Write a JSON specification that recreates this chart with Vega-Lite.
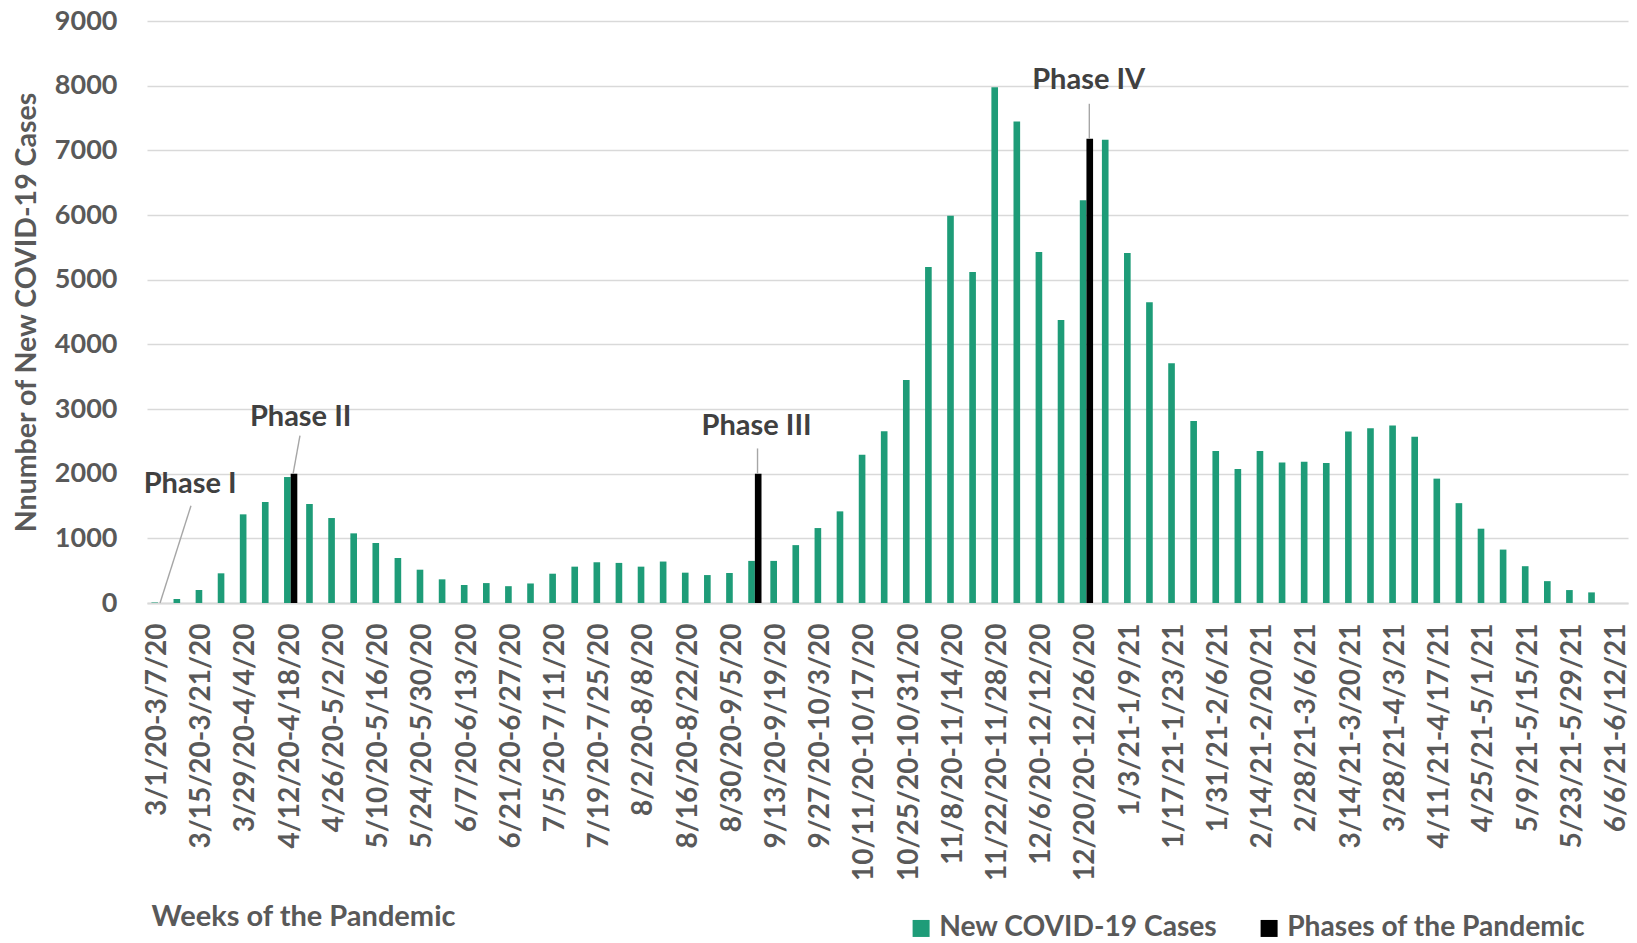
{
  "$schema": "https://vega.github.io/schema/vega-lite/v6.json",
  "width": 1481,
  "height": 582,
  "autosize": {"type": "none"},
  "padding": {"left": 147, "top": 21, "right": 9, "bottom": 340},
  "background": "white",
  "config": {"view": {"stroke": null}, "font": "Lato"},
  "datasets": {
    "bars": [
      {"week": "3/1/20-3/7/20", "series": "New COVID-19 Cases", "cases": 8},
      {"week": "3/8/20-3/14/20", "series": "New COVID-19 Cases", "cases": 62},
      {"week": "3/15/20-3/21/20", "series": "New COVID-19 Cases", "cases": 201},
      {"week": "3/22/20-3/28/20", "series": "New COVID-19 Cases", "cases": 459},
      {"week": "3/29/20-4/4/20", "series": "New COVID-19 Cases", "cases": 1371},
      {"week": "4/5/20-4/11/20", "series": "New COVID-19 Cases", "cases": 1562},
      {"week": "4/12/20-4/18/20", "series": "New COVID-19 Cases", "cases": 1948},
      {"week": "4/19/20-4/25/20", "series": "New COVID-19 Cases", "cases": 1531},
      {"week": "4/26/20-5/2/20", "series": "New COVID-19 Cases", "cases": 1314},
      {"week": "5/3/20-5/9/20", "series": "New COVID-19 Cases", "cases": 1077},
      {"week": "5/10/20-5/16/20", "series": "New COVID-19 Cases", "cases": 928},
      {"week": "5/17/20-5/23/20", "series": "New COVID-19 Cases", "cases": 696},
      {"week": "5/24/20-5/30/20", "series": "New COVID-19 Cases", "cases": 515},
      {"week": "5/31/20-6/6/20", "series": "New COVID-19 Cases", "cases": 366},
      {"week": "6/7/20-6/13/20", "series": "New COVID-19 Cases", "cases": 278},
      {"week": "6/14/20-6/20/20", "series": "New COVID-19 Cases", "cases": 308},
      {"week": "6/21/20-6/27/20", "series": "New COVID-19 Cases", "cases": 260},
      {"week": "6/28/20-7/4/20", "series": "New COVID-19 Cases", "cases": 302},
      {"week": "7/5/20-7/11/20", "series": "New COVID-19 Cases", "cases": 453},
      {"week": "7/12/20-7/18/20", "series": "New COVID-19 Cases", "cases": 562},
      {"week": "7/19/20-7/25/20", "series": "New COVID-19 Cases", "cases": 630},
      {"week": "7/26/20-8/1/20", "series": "New COVID-19 Cases", "cases": 620},
      {"week": "8/2/20-8/8/20", "series": "New COVID-19 Cases", "cases": 562},
      {"week": "8/9/20-8/15/20", "series": "New COVID-19 Cases", "cases": 641},
      {"week": "8/16/20-8/22/20", "series": "New COVID-19 Cases", "cases": 469},
      {"week": "8/23/20-8/29/20", "series": "New COVID-19 Cases", "cases": 432},
      {"week": "8/30/20-9/5/20", "series": "New COVID-19 Cases", "cases": 464},
      {"week": "9/6/20-9/12/20", "series": "New COVID-19 Cases", "cases": 651},
      {"week": "9/13/20-9/19/20", "series": "New COVID-19 Cases", "cases": 651},
      {"week": "9/20/20-9/26/20", "series": "New COVID-19 Cases", "cases": 895},
      {"week": "9/27/20-10/3/20", "series": "New COVID-19 Cases", "cases": 1159},
      {"week": "10/4/20-10/10/20", "series": "New COVID-19 Cases", "cases": 1417},
      {"week": "10/11/20-10/17/20", "series": "New COVID-19 Cases", "cases": 2294},
      {"week": "10/18/20-10/24/20", "series": "New COVID-19 Cases", "cases": 2655},
      {"week": "10/25/20-10/31/20", "series": "New COVID-19 Cases", "cases": 3447},
      {"week": "11/1/20-11/7/20", "series": "New COVID-19 Cases", "cases": 5195},
      {"week": "11/8/20-11/14/20", "series": "New COVID-19 Cases", "cases": 5988},
      {"week": "11/15/20-11/21/20", "series": "New COVID-19 Cases", "cases": 5117},
      {"week": "11/22/20-11/28/20", "series": "New COVID-19 Cases", "cases": 7976},
      {"week": "11/29/20-12/5/20", "series": "New COVID-19 Cases", "cases": 7447},
      {"week": "12/6/20-12/12/20", "series": "New COVID-19 Cases", "cases": 5429},
      {"week": "12/13/20-12/19/20", "series": "New COVID-19 Cases", "cases": 4378},
      {"week": "12/20/20-12/26/20", "series": "New COVID-19 Cases", "cases": 6228},
      {"week": "12/27/20-1/2/21", "series": "New COVID-19 Cases", "cases": 7165},
      {"week": "1/3/21-1/9/21", "series": "New COVID-19 Cases", "cases": 5411},
      {"week": "1/10/21-1/16/21", "series": "New COVID-19 Cases", "cases": 4649},
      {"week": "1/17/21-1/23/21", "series": "New COVID-19 Cases", "cases": 3706},
      {"week": "1/24/21-1/30/21", "series": "New COVID-19 Cases", "cases": 2815},
      {"week": "1/31/21-2/6/21", "series": "New COVID-19 Cases", "cases": 2349},
      {"week": "2/7/21-2/13/21", "series": "New COVID-19 Cases", "cases": 2072},
      {"week": "2/14/21-2/20/21", "series": "New COVID-19 Cases", "cases": 2349},
      {"week": "2/21/21-2/27/21", "series": "New COVID-19 Cases", "cases": 2174},
      {"week": "2/28/21-3/6/21", "series": "New COVID-19 Cases", "cases": 2185},
      {"week": "3/7/21-3/13/21", "series": "New COVID-19 Cases", "cases": 2164},
      {"week": "3/14/21-3/20/21", "series": "New COVID-19 Cases", "cases": 2651},
      {"week": "3/21/21-3/27/21", "series": "New COVID-19 Cases", "cases": 2703},
      {"week": "3/28/21-4/3/21", "series": "New COVID-19 Cases", "cases": 2744},
      {"week": "4/4/21-4/10/21", "series": "New COVID-19 Cases", "cases": 2569},
      {"week": "4/11/21-4/17/21", "series": "New COVID-19 Cases", "cases": 1923},
      {"week": "4/18/21-4/24/21", "series": "New COVID-19 Cases", "cases": 1544},
      {"week": "4/25/21-5/1/21", "series": "New COVID-19 Cases", "cases": 1149},
      {"week": "5/2/21-5/8/21", "series": "New COVID-19 Cases", "cases": 826},
      {"week": "5/9/21-5/15/21", "series": "New COVID-19 Cases", "cases": 569},
      {"week": "5/16/21-5/22/21", "series": "New COVID-19 Cases", "cases": 338},
      {"week": "5/23/21-5/29/21", "series": "New COVID-19 Cases", "cases": 200},
      {"week": "5/30/21-6/5/21", "series": "New COVID-19 Cases", "cases": 164},
      {"week": "6/6/21-6/12/21", "series": "New COVID-19 Cases", "cases": 0},
      {"week": "3/1/20-3/7/20", "series": "Phases of the Pandemic", "cases": 0},
      {"week": "4/12/20-4/18/20", "series": "Phases of the Pandemic", "cases": 2000},
      {"week": "9/6/20-9/12/20", "series": "Phases of the Pandemic", "cases": 2000},
      {"week": "12/20/20-12/26/20", "series": "Phases of the Pandemic", "cases": 7180}
    ],
    "leaders": [
      {"phase": "Phase I", "pos": 0.09, "cases": 0},
      {"phase": "Phase I", "pos": 1.49, "cases": 1505},
      {"phase": "Phase II", "pos": 6.11, "cases": 2000},
      {"phase": "Phase II", "pos": 6.42, "cases": 2590},
      {"phase": "Phase III", "pos": 27.12, "cases": 2000},
      {"phase": "Phase III", "pos": 27.12, "cases": 2390},
      {"phase": "Phase IV", "pos": 42.13, "cases": 7180},
      {"phase": "Phase IV", "pos": 42.13, "cases": 7720}
    ],
    "labels": [
      {"phase": "Phase I", "pos": 1.45, "cases": 1845},
      {"phase": "Phase II", "pos": 6.45, "cases": 2880},
      {"phase": "Phase III", "pos": 27.08, "cases": 2741},
      {"phase": "Phase IV", "pos": 42.1, "cases": 8086}
    ]
  },
  "layer": [
    {
      "data": {"name": "bars"},
      "mark": {"type": "bar"},
      "encoding": {
        "x": {
          "field": "week",
          "type": "nominal",
          "sort": null,
          "scale": {"paddingInner": 0.4, "paddingOuter": 0.2},
          "axis": {
            "title": "Weeks of the Pandemic",
            "values": ["3/1/20-3/7/20", "3/15/20-3/21/20", "3/29/20-4/4/20", "4/12/20-4/18/20", "4/26/20-5/2/20", "5/10/20-5/16/20", "5/24/20-5/30/20", "6/7/20-6/13/20", "6/21/20-6/27/20", "7/5/20-7/11/20", "7/19/20-7/25/20", "8/2/20-8/8/20", "8/16/20-8/22/20", "8/30/20-9/5/20", "9/13/20-9/19/20", "9/27/20-10/3/20", "10/11/20-10/17/20", "10/25/20-10/31/20", "11/8/20-11/14/20", "11/22/20-11/28/20", "12/6/20-12/12/20", "12/20/20-12/26/20", "1/3/21-1/9/21", "1/17/21-1/23/21", "1/31/21-2/6/21", "2/14/21-2/20/21", "2/28/21-3/6/21", "3/14/21-3/20/21", "3/28/21-4/3/21", "4/11/21-4/17/21", "4/25/21-5/1/21", "5/9/21-5/15/21", "5/23/21-5/29/21", "6/6/21-6/12/21"],
            "labelAngle": -90,
            "labelFont": "Lato",
            "labelFontSize": 28,
            "labelFontWeight": "bold",
            "labelColor": "#595959",
            "labelPadding": 20,
            "labelLimit": 0,
            "labelOverlap": false,
            "ticks": false,
            "grid": false,
            "domainColor": "#d9d9d9",
            "domainWidth": 2,
            "titleFont": "Lato",
            "titleFontSize": 29,
            "titleFontWeight": "bold",
            "titleColor": "#595959",
            "titleAnchor": "start",
            "titleAlign": "left",
            "titleBaseline": "middle",
            "titleX": 4,
            "titleY": 313
          }
        },
        "xOffset": {
          "field": "series",
          "type": "nominal",
          "scale": {"domain": ["New COVID-19 Cases", "Phases of the Pandemic"], "paddingInner": 0, "paddingOuter": 0}
        },
        "y": {
          "field": "cases",
          "type": "quantitative",
          "scale": {"domain": [0, 9000], "nice": false},
          "axis": {
            "title": "Nnumber of New COVID-19 Cases",
            "values": [0, 1000, 2000, 3000, 4000, 5000, 6000, 7000, 8000, 9000],
            "format": "d",
            "domain": false,
            "ticks": false,
            "grid": true,
            "gridColor": "#d9d9d9",
            "gridWidth": 1.5,
            "labelFont": "Lato",
            "labelFontSize": 27,
            "labelFontWeight": "bold",
            "labelColor": "#595959",
            "labelPadding": 30,
            "titleFont": "Lato",
            "titleFontSize": 28.5,
            "titleFontWeight": "bold",
            "titleColor": "#595959",
            "titleAngle": -90,
            "titleAlign": "center",
            "titleBaseline": "middle",
            "titleX": -121,
            "titleY": 291
          }
        },
        "color": {
          "field": "series",
          "type": "nominal",
          "scale": {"domain": ["New COVID-19 Cases", "Phases of the Pandemic"], "range": ["#1e9c78", "#000000"]},
          "legend": {
            "title": null,
            "orient": "none",
            "direction": "horizontal",
            "legendX": 760,
            "legendY": 893,
            "symbolType": "square",
            "symbolSize": 289,
            "symbolStrokeWidth": 0,
            "labelFont": "Lato",
            "labelFontSize": 28.2,
            "labelFontWeight": "bold",
            "labelColor": "#595959",
            "labelOffset": 4,
            "labelLimit": 0,
            "columnPadding": 37
          }
        }
      }
    },
    {
      "data": {"name": "leaders"},
      "mark": {"type": "line", "color": "#a6a6a6", "strokeWidth": 1.4},
      "encoding": {
        "x": {"field": "pos", "type": "quantitative", "scale": {"domain": [-0.5, 66.5], "nice": false, "zero": false}, "axis": null},
        "y": {"field": "cases", "type": "quantitative"},
        "detail": {"field": "phase"}
      }
    },
    {
      "data": {"name": "labels"},
      "mark": {"type": "text", "font": "Lato", "fontSize": 29, "fontWeight": "bold", "color": "#404040", "align": "center", "baseline": "middle"},
      "encoding": {
        "x": {"field": "pos", "type": "quantitative", "scale": {"domain": [-0.5, 66.5], "nice": false, "zero": false}, "axis": null},
        "y": {"field": "cases", "type": "quantitative"},
        "text": {"field": "phase"}
      }
    }
  ],
  "resolve": {"scale": {"x": "independent"}}
}
